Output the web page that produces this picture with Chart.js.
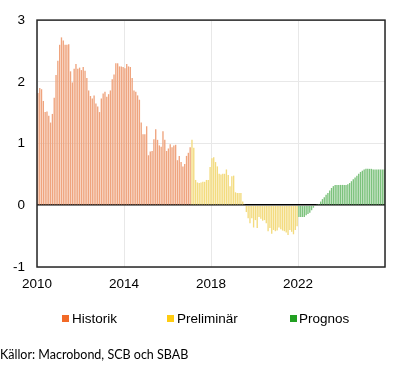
<!DOCTYPE html>
<html>
<head>
<meta charset="utf-8">
<script src="https://cdn.jsdelivr.net/npm/chart.js@4"></script>
<style>
  html, body { margin: 0; padding: 0; background: #fff; }
  #wrap { position: relative; width: 399px; height: 369px; }
  #c { position: absolute; left: 0; top: 0; }
  .leg { position: absolute; top: 311px; font: 13.5px "Liberation Sans", Arial, sans-serif; color: #000; white-space: nowrap; line-height: 15px; }
  .sq { position: absolute; top: 315px; width: 7px; height: 7px; }
  #src { position: absolute; left: 0; top: 347px; font: 12.5px Lato, "Liberation Sans", sans-serif; color: #000; white-space: nowrap; }
</style>
</head>
<body>
<div id="wrap">
  <canvas id="c" width="399" height="369"></canvas>
  <div class="sq" style="left:62px;background:#F26A28"></div>
  <div class="leg" style="left:72px">Historik</div>
  <div class="sq" style="left:167px;background:#FFCC11"></div>
  <div class="leg" style="left:177px">Preliminär</div>
  <div class="sq" style="left:290px;background:#22A022"></div>
  <div class="leg" style="left:299px">Prognos</div>
  <div id="src">Källor: Macrobond, SCB och SBAB</div>
</div>
<script>
// ---- Data (monthly values, start Jan 2010) ----
const startYear = 2010;
const endYear = 2026;
const xTickYears = [2010, 2014, 2018, 2022];
const yTicks = [-1, 0, 1, 2, 3];
const seriesNames = ['Historik', 'Preliminär', 'Prognos'];

// Historik: Jan 2010 - Jan 2017
const historik = [
  1.82, 1.90, 1.88, 1.69, 1.51, 1.52, 1.45, 1.34, 1.48, 1.74, 2.11, 2.34,
  2.60, 2.72, 2.67, 2.60, 2.60, 2.61, 2.17, 1.99, 2.21, 2.29, 2.21, 2.23,
  2.19, 2.24, 2.18, 2.06, 1.86, 1.77, 1.73, 1.78, 1.65, 1.60, 1.51, 1.73,
  1.81, 1.84, 1.76, 1.80, 1.86, 2.04, 2.12, 2.30, 2.30, 2.25, 2.25, 2.24,
  2.22, 2.29, 2.25, 2.24, 2.06, 1.86, 1.84, 1.78, 1.71, 1.34, 1.15, 1.15,
  1.28, 0.81, 0.87, 0.88, 1.07, 1.23, 1.06, 0.97, 0.95, 1.20, 1.06, 0.88,
  0.92, 0.99, 0.94, 0.97, 0.98, 0.73, 0.80, 0.70, 0.63, 0.67, 0.80, 0.85,
  0.94
];
// Preliminär: Feb 2017 - Dec 2021
const preliminar = [
  1.06, 0.93, 0.41, 0.37, 0.36, 0.37, 0.38, 0.38, 0.41, 0.41, 0.62,
  0.76, 0.78, 0.70, 0.63, 0.51, 0.50, 0.51, 0.51, 0.58, 0.49, 0.31, 0.47,
  0.48, 0.21, 0.20, 0.20, 0.20, 0.06, 0.01, -0.11, -0.21, -0.29, -0.21, -0.36,
  -0.24, -0.37, -0.19, -0.22, -0.25, -0.24, -0.29, -0.42, -0.37, -0.46, -0.40, -0.42,
  -0.41, -0.36, -0.39, -0.41, -0.42, -0.44, -0.48, -0.40, -0.43, -0.47, -0.40, -0.34
];
// Prognos: Jan 2022 - Dec 2025
const prognos = [
  -0.19, -0.19, -0.19, -0.19, -0.16, -0.14, -0.12, -0.08, -0.04, -0.01, 0.01, 0.02,
  0.06, 0.10, 0.13, 0.17, 0.20, 0.24, 0.28, 0.31, 0.33, 0.33, 0.33, 0.33,
  0.33, 0.33, 0.33, 0.34, 0.36, 0.39, 0.42, 0.45, 0.48, 0.51, 0.54, 0.56,
  0.58, 0.59, 0.59, 0.59, 0.59, 0.58, 0.58, 0.58, 0.58, 0.58, 0.58, 0.58
];

// ---- Build points (x = decimal year at month centre) ----
function toPoints(arr, monthOffset) {
  return arr.map((v, i) => ({ x: startYear + (monthOffset + i + 0.5) / 12, y: v }));
}
const offHist = 0;
const offPrel = historik.length;
const offProg = historik.length + preliminar.length;

const framePlugin = {
  id: 'frame',
  afterDraw(chart) {
    const { ctx, chartArea: a } = chart;
    ctx.save();
    ctx.strokeStyle = '#262626';
    ctx.lineWidth = 1.5;
    ctx.strokeRect(a.left, a.top, a.right - a.left, a.bottom - a.top);
    ctx.restore();
  }
};

const tickFont = { family: '"Liberation Sans", Arial, sans-serif', size: 13.5 };

new Chart(document.getElementById('c'), {
  type: 'bar',
  data: {
    datasets: [
      { label: seriesNames[0], data: toPoints(historik, offHist), backgroundColor: '#EFA47E' },
      { label: seriesNames[1], data: toPoints(preliminar, offPrel), backgroundColor: '#F3DB7E' },
      { label: seriesNames[2], data: toPoints(prognos, offProg), backgroundColor: '#7CC27C' }
    ]
  },
  options: {
    responsive: false,
    animation: false,
    devicePixelRatio: 1,
    layout: { padding: { top: 10, right: 14, bottom: 76, left: 0 } },
    datasets: { bar: { grouped: false, barPercentage: 0.75, categoryPercentage: 1.0 } },
    plugins: { legend: { display: false }, tooltip: { enabled: false } },
    scales: {
      x: {
        type: 'linear',
        offset: false,
        min: startYear,
        max: endYear,
        afterBuildTicks(scale) { scale.ticks = xTickYears.concat([endYear]).map(v => ({ value: v })); },
        afterFit(scale) { scale.height = 26; },
        ticks: {
          font: tickFont, color: '#000', padding: 9, maxRotation: 0, autoSkip: false,
          callback: (v) => (xTickYears.includes(v) ? String(v) : '')
        },
        grid: { color: '#e8e8e8', lineWidth: 1, drawTicks: false, offset: false },
        border: { display: false }
      },
      y: {
        min: -1,
        max: 3,
        afterBuildTicks(scale) { scale.ticks = yTicks.map(v => ({ value: v })); },
        afterFit(scale) { scale.width = 37; },
        ticks: { font: tickFont, color: '#000', padding: 12 },
        grid: {
          drawTicks: false,
          color: (c) => (c.tick && c.tick.value === 0 ? '#000' : '#e8e8e8'),
          lineWidth: (c) => (c.tick && c.tick.value === 0 ? 1.6 : 1)
        },
        border: { display: false }
      }
    }
  },
  plugins: [framePlugin]
});
</script>
</body>
</html>
